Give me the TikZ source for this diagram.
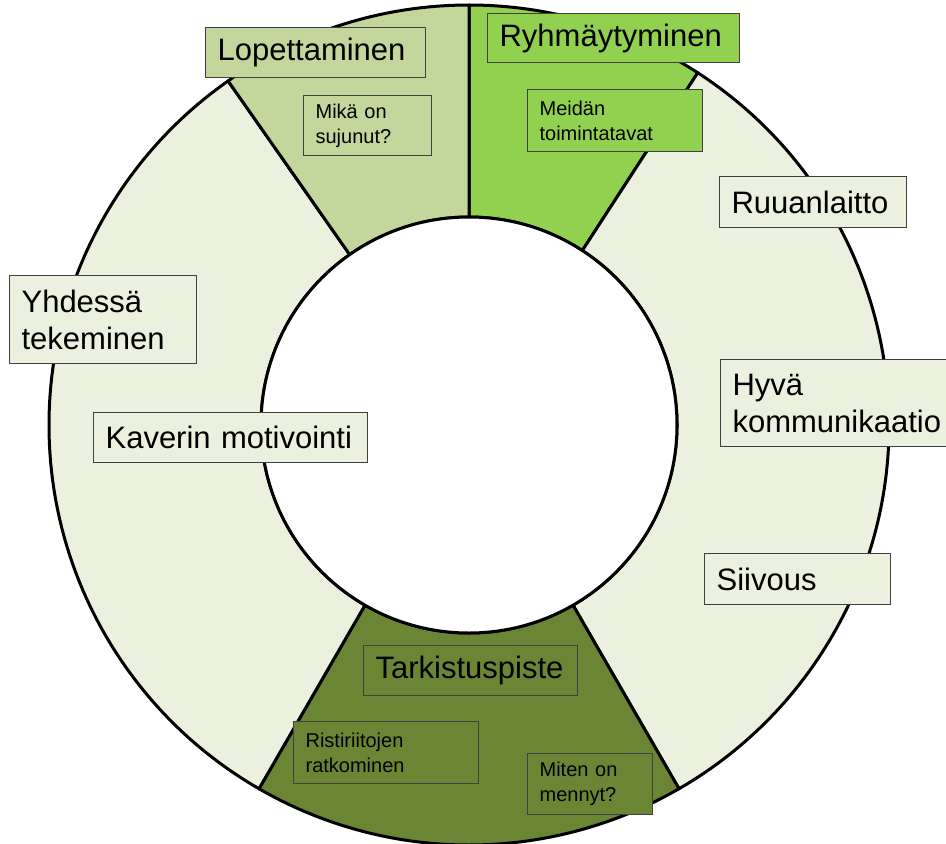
\documentclass[tikz,border=0pt]{standalone}
\usepackage{fontspec}
\setmainfont{Liberation Sans}
\hyphenpenalty=10000
\definecolor{vihrea}{RGB}{146,208,80}
\definecolor{vaalea}{RGB}{195,214,155}
\definecolor{tumma}{RGB}{106,134,53}
\definecolor{haalea}{RGB}{235,241,222}
\definecolor{reuna}{RGB}{64,64,64}

% one slice of the ring: colour, start angle, end angle
\newcommand{\sektori}[3]{%
  \draw[ring, fill=#1] (keski) ++(#2:420) arc (#2:#3:420)
    -- ([shift={(keski)}]#3:208) arc (#3:#2:208) -- cycle;}

\begin{document}
\begin{tikzpicture}
    [x=1pt, y=1pt,
    ring/.style={line width=3pt, draw=black, line join=round},
    laatikko/.style={draw=reuna, line width=1.2pt, anchor=north west,
        inner xsep=12pt, inner ysep=0pt, align=left},
    iso/.style={laatikko, font=\fontsize{31}{37}\selectfont},
    pieni/.style={laatikko, font=\fontsize{20}{25}\selectfont}]
        \useasboundingbox (0,0) rectangle (946,-844);
        \coordinate (keski) at (469,-425);

        \sektori{vihrea}{90}{57}
        \sektori{haalea}{57}{-60}
        \sektori{tumma}{-60}{-120}
        \sektori{haalea}{-120}{-235}
        \sektori{vaalea}{125}{90}
        \draw[ring, fill=white] (keski) circle (208);

        \node[iso, fill=vaalea, text width=196pt, minimum height=50pt] (lopetus) at (205,-27) {Lopettaminen};
        \node[pieni, fill=vaalea, text width=104pt, minimum height=60pt] (sujunut) at (303,-95) {Mikä on\\sujunut?};
        \node[iso, fill=vihrea, text width=228pt, minimum height=49pt] (ryhma) at (487,-13) {Ryhmäytyminen};
        \node[pieni, fill=vihrea, text width=151pt, minimum height=62pt] (tavat) at (527,-89) {Meidän\\toimintatavat};
        \node[iso, fill=haalea, text width=163pt, minimum height=51pt] (ruoka) at (719,-176) {Ruuanlaitto};
        \node[iso, fill=haalea, text width=216pt, minimum height=87pt] (kommu) at (720,-359) {Hyvä\\kommunikaatio};
        \node[iso, fill=haalea, text width=162pt, minimum height=51pt] (siivous) at (704,-553) {Siivous};
        \node[iso, fill=haalea, text width=163pt, minimum height=88pt] (yhdessa) at (9,-275) {Yhdessä\\tekeminen};
        \node[iso, fill=haalea, text width=250pt, minimum height=50pt] (kaveri) at (93,-412) {Kaverin motivointi};
        \node[iso, fill=tumma, text width=190pt, minimum height=50pt] (tarkistus) at (363,-645) {Tarkistuspiste};
        \node[pieni, fill=tumma, text width=161pt, minimum height=62pt] (riidat) at (293,-721) {Ristiriitojen\\ratkominen};
        \node[pieni, fill=tumma, text width=101pt, minimum height=61pt] (mennyt) at (527,-753) {Miten on\\mennyt?};
\end{tikzpicture}
\end{document}
